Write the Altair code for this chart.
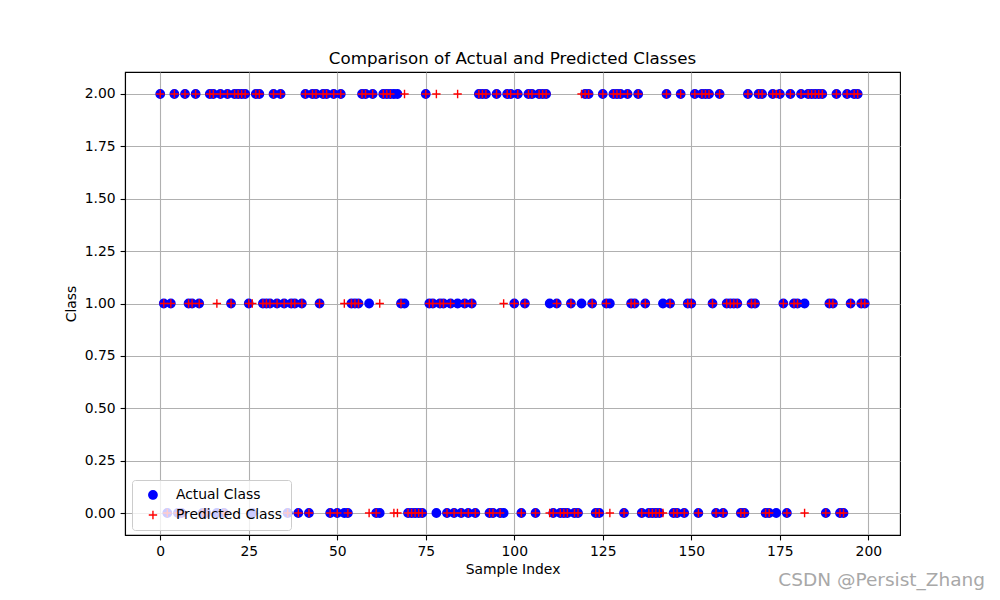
import altair as alt
import pandas as pd

# Actual and predicted class per sample index (0..199)
actual = [
    2, 1, 0, 1, 2, 0, 0, 2, 1, 1,
    2, 1, 0, 0, 2, 2, 0, 2, 0, 2,
    1, 2, 2, 2, 2, 1, 0, 2, 2, 1,
    1, 1, 2, 1, 2, 1, 0, 1, 1, 0,
    1, 2, 0, 2, 2, 1, 2, 2, 0, 2,
    0, 2, 0, 0, 1, 1, 1, 2, 2, 1,
    2, 0, 0, 2, 2, 2, 2, 2, 1, 1,
    0, 0, 0, 0, 0, 2, 1, 1, 0, 1,
    1, 0, 1, 0, 1, 0, 1, 0, 1, 0,
    2, 2, 2, 0, 0, 2, 0, 0, 2, 2,
    1, 2, 0, 1, 2, 2, 0, 2, 2, 2,
    1, 0, 1, 0, 0, 0, 1, 0, 0, 1,
    2, 2, 1, 0, 0, 2, 1, 1, 2, 2,
    2, 0, 2, 1, 1, 2, 0, 1, 0, 0,
    0, 0, 1, 2, 1, 0, 0, 2, 0, 1,
    1, 2, 0, 2, 2, 2, 1, 0, 2, 0,
    1, 1, 1, 1, 0, 0, 2, 1, 1, 2,
    2, 0, 0, 2, 0, 2, 1, 0, 2, 1,
    1, 2, 1, 2, 2, 2, 2, 2, 0, 1,
    1, 2, 0, 0, 2, 1, 2, 2, 1, 1,
]

predicted = [
    2, 1, 0, 1, 2, 0, 0, 2, 1, 1,
    2, 1, 0, 0, 2, 2, 1, 2, 0, 2,
    1, 2, 2, 2, 2, 1, 1, 2, 2, 1,
    1, 1, 2, 1, 2, 1, 0, 1, 1, 0,
    1, 2, 0, 2, 2, 1, 2, 2, 0, 2,
    0, 2, 1, 0, 1, 1, 1, 2, 2, 0,
    2, 0, 1, 2, 2, 2, 0, 0, 1, 2,
    0, 0, 0, 0, 0, 2, 1, 1, 2, 1,
    1, 0, 1, 0, 2, 0, 1, 0, 1, 0,
    2, 2, 2, 0, 0, 2, 0, 1, 2, 2,
    1, 2, 0, 1, 2, 2, 0, 2, 2, 2,
    0, 0, 1, 0, 0, 0, 1, 0, 0, 2,
    2, 2, 1, 0, 0, 2, 1, 0, 2, 2,
    2, 0, 2, 1, 1, 2, 0, 1, 0, 0,
    0, 0, 0, 2, 1, 0, 0, 2, 0, 1,
    1, 2, 0, 2, 2, 2, 1, 0, 2, 0,
    1, 1, 1, 1, 0, 0, 2, 1, 1, 2,
    2, 0, 0, 2, 2, 2, 1, 0, 2, 1,
    1, 2, 0, 2, 2, 2, 2, 2, 0, 1,
    1, 2, 0, 0, 2, 1, 2, 2, 1, 1,
]

series_names = ["Actual Class", "Predicted Class"]
x_ticks = [0, 25, 50, 75, 100, 125, 150, 175, 200]
y_ticks = [0.0, 0.25, 0.5, 0.75, 1.0, 1.25, 1.5, 1.75, 2.0]
title_text = "Comparison of Actual and Predicted Classes"
watermark = ["CSDN @Persist_Zhang"]

n = len(actual)
df = pd.DataFrame({
    "Sample Index": list(range(n)) * 2,
    "Class": actual + predicted,
    "series": [series_names[0]] * n + [series_names[1]] * n,
})

plus_path = "M-1,0L1,0M0,-1L0,1"
FONT = "DejaVu Sans"

legend = alt.Legend(
    title=None,
    orient="none",
    legendX=7,
    legendY=408,
    padding=8,
    fillColor="rgba(255,255,255,0.8)",
    strokeColor="#cccccc",
    cornerRadius=3,
    labelFont=FONT,
    labelFontSize=13.9,
    labelColor="black",
    symbolSize=70,
    symbolStrokeWidth=1.4,
    rowPadding=5,
    labelOffset=16,
    symbolOffset=6,
)

points = alt.Chart(df).mark_point(size=70, strokeWidth=1.4, opacity=1).encode(
    x=alt.X("Sample Index:Q",
            scale=alt.Scale(domain=[-9.95, 208.95], nice=False, zero=False),
            axis=alt.Axis(values=x_ticks, format="d", title="Sample Index")),
    y=alt.Y("Class:Q",
            scale=alt.Scale(domain=[-0.105, 2.105], nice=False, zero=False),
            axis=alt.Axis(values=y_ticks, format=".2f", title="Class")),
    shape=alt.Shape("series:N",
                    scale=alt.Scale(domain=series_names, range=["circle", plus_path]),
                    legend=legend),
    fill=alt.Fill("series:N",
                  scale=alt.Scale(domain=series_names, range=["#0000ff", "transparent"]),
                  legend=legend),
    stroke=alt.Stroke("series:N",
                      scale=alt.Scale(domain=series_names, range=["#0000ff", "#ff0000"]),
                      legend=legend),
)

wm = alt.Chart(pd.DataFrame({"t": watermark})).mark_text(
    align="right", baseline="middle", font=FONT, fontSize=18.5, color="#a8a8a8"
).encode(x=alt.value(860), y=alt.value(508), text="t:N")

chart = alt.layer(points, wm).properties(
    width=775,
    height=463,
    title=alt.TitleParams(title_text, font=FONT, fontSize=16.7, fontWeight="normal",
                          color="black", anchor="middle", offset=4),
    padding={"left": 125, "top": 72, "right": 100, "bottom": 65},
    autosize=alt.AutoSizeParams(type="none"),
).configure_view(
    stroke="black", strokeWidth=1.1
).configure_axis(
    labelFont=FONT, labelFontSize=13.9, labelColor="black",
    titleFont=FONT, titleFontSize=13.9, titleFontWeight="normal", titleColor="black",
    tickColor="black", tickSize=4.9, tickWidth=1.1,
    domainColor="black", domainWidth=1.1,
    gridColor="#b0b0b0", gridWidth=1.1, grid=True,
    labelPadding=4.9,
).configure_axisX(
    titlePadding=4
).configure_axisY(
    titlePadding=6
)

chart.save("out.html", embed_options={"renderer": "svg", "actions": False})
